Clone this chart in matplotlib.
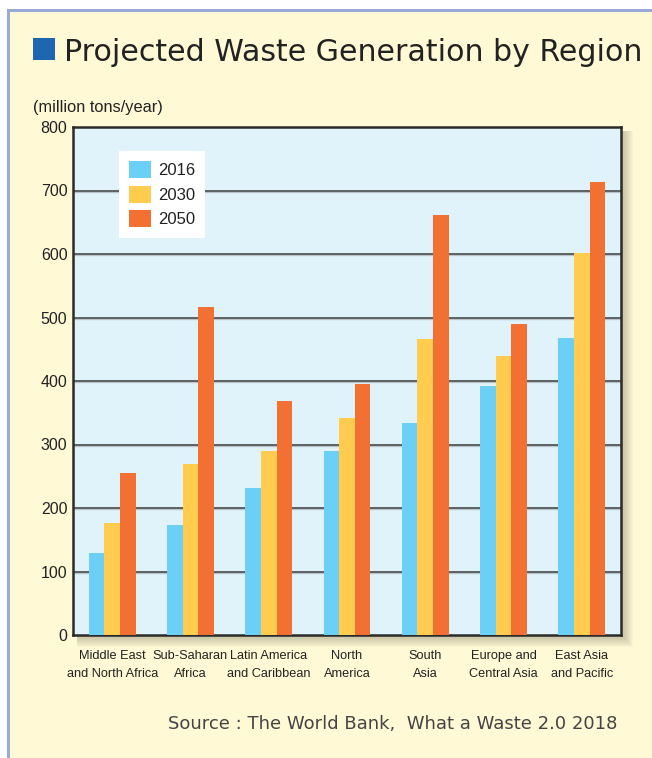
import matplotlib
matplotlib.use("Agg")
import matplotlib.pyplot as plt
import numpy as np
from matplotlib.patches import Rectangle

regions = ["Middle East\nand North Africa", "Sub-Saharan\nAfrica", "Latin America\nand Caribbean",
           "North\nAmerica", "South\nAsia", "Europe and\nCentral Asia", "East Asia\nand Pacific"]
years = ["2016", "2030", "2050"]
v2016 = [129, 174, 231, 289, 334, 392, 468]
v2030 = [177, 269, 290, 342, 466, 440, 602]
v2050 = [255, 516, 369, 396, 661, 490, 714]
yticks = [0, 100, 200, 300, 400, 500, 600, 700, 800]

colors = ["#6BCFF6", "#FFCC4F", "#F37033"]
bg = "#FFF9D6"
narrow = ["Liberation Sans Narrow", "Liberation Sans", "DejaVu Sans"]

fig = plt.figure(figsize=(6.52, 7.58), dpi=100)
fig.patch.set_facecolor("white")
W, H = 652, 758

def fx(px): return px / W
def fy(py): return 1 - py / H

# cream panel with border on left and top
fig.patches.append(Rectangle((fx(7), 0), 1 - fx(7), fy(9), transform=fig.transFigure,
                             facecolor=bg, edgecolor="none", zorder=0))
fig.patches.append(Rectangle((fx(7), 0), fx(3), fy(9), transform=fig.transFigure,
                             facecolor="#9AAAD8", edgecolor="none", zorder=1))
fig.patches.append(Rectangle((fx(7), fy(12)), 1 - fx(7), 3 / H, transform=fig.transFigure,
                             facecolor="#9AAAD8", edgecolor="none", zorder=1))

# title
fig.patches.append(Rectangle((fx(33), fy(60)), fx(22), 22 / H, transform=fig.transFigure,
                             facecolor="#1E66B0", edgecolor="none", zorder=2))
fig.text(fx(64), fy(61), "Projected Waste Generation by Region", fontsize=21.6,
         family="DejaVu Sans", color="#222222", ha="left", va="baseline", zorder=5)

# axes
l, r, t, b = 73, 621, 127, 635
ax = fig.add_axes([fx(l), fy(b), fx(r) - fx(l), fy(t) - fy(b)])
ax.set_zorder(3)

# shadow
for i in range(12, 0, -1):
    fig.patches.append(Rectangle((fx(l + 4), fy(b + i)), fx(r - l - 4 + i), (b - t - 4 + i) / H,
                                 transform=fig.transFigure, facecolor="#8a8a70",
                                 edgecolor="none", alpha=0.05, zorder=1.5))

ax.set_facecolor("#E0F3FA")
x = np.arange(len(regions))
w = 0.2
for k, (vals, c, lab) in enumerate(zip([v2016, v2030, v2050], colors, years)):
    ax.bar(x + (k - 1) * w, vals, width=w, color=c, label=lab, zorder=3, linewidth=0)

for yv in yticks[1:-1]:
    ax.axhline(yv, color="#3A3A3A", lw=1.1, zorder=2)
    ax.axhline(yv - 2.0, color="#B8C2C8", lw=0.9, zorder=1.9)

ax.set_xlim(-0.5, len(regions) - 0.5)
ax.set_ylim(0, 800)
ax.set_yticks(yticks)
ax.set_yticklabels([str(v) for v in yticks], fontsize=11.5, color="#222222",
                   family=["Liberation Sans", "DejaVu Sans"])
ax.tick_params(axis="y", length=0, pad=4)
ax.set_xticks(x)
ax.set_xticklabels(regions, fontsize=9.2, color="#222222", family=narrow, linespacing=1.75)
ax.tick_params(axis="x", length=0, pad=10.5)
for s in ax.spines.values():
    s.set_color("#2A2A2A")
    s.set_linewidth(1.8)

leg = ax.legend(loc="upper left", bbox_to_anchor=((119 - l) / (r - l), 1 - (151 - t) / (b - t)),
                frameon=True, fancybox=False, handlelength=1.3, handleheight=1.2,
                borderpad=0.6, labelspacing=0.45, handletextpad=0.45, borderaxespad=0,
                prop={"family": ["Liberation Sans", "DejaVu Sans"], "size": 12})
leg.get_frame().set_facecolor("white")
leg.get_frame().set_edgecolor("none")
leg.get_frame().set_alpha(1)
leg.set_zorder(5)
for txt in leg.get_texts():
    txt.set_color("#222222")

fig.text(fx(33), fy(112), "(million tons/year)", fontsize=11.8, color="#222222",
         family=["Liberation Sans", "DejaVu Sans"], ha="left", va="baseline")

fig.text(fx(617), fy(729), "Source : The World Bank,  What a Waste 2.0 2018", fontsize=13,
         color="#444444", ha="right", va="baseline")

fig.savefig("out.png", dpi=100, facecolor=fig.get_facecolor())
